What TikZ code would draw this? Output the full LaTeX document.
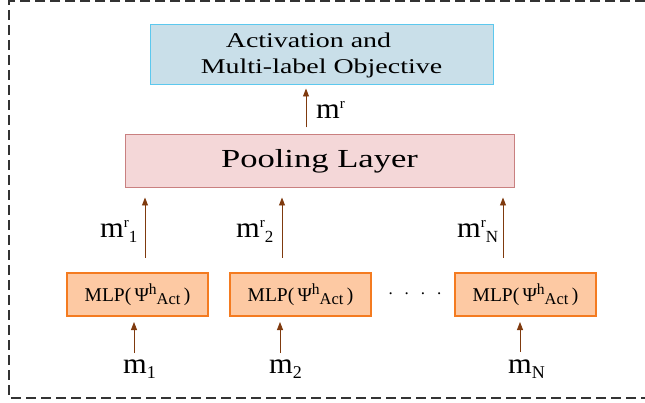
\documentclass[tikz,border=0pt]{standalone}
\usepackage{fontspec}
\setmainfont{Liberation Serif}
\newfontfamily\widefont{Liberation Serif}[FakeStretch=1.33]
\newfontfamily\mfont{Liberation Serif}[FakeStretch=1.05]
\usetikzlibrary{arrows.meta}
\definecolor{topfill}{HTML}{C9DFE9}
\definecolor{topdraw}{HTML}{5CC8EE}
\definecolor{poolfill}{HTML}{F4D7D8}
\definecolor{pooldraw}{HTML}{C98080}
\definecolor{mlpfill}{HTML}{FDC9A3}
\definecolor{mlpdraw}{HTML}{F47B20}
\definecolor{arrcol}{HTML}{7F3A0E}
\definecolor{framecol}{HTML}{333333}
\newcommand{\mlp}{{\fontsize{19.5}{19.5}\selectfont MLP(\,Ψ\raisebox{7pt}{\fontsize{15.5}{15.5}\selectfont h}\raisebox{-3pt}{\fontsize{16.5}{16.5}\selectfont Act}\,)}}
\newcommand{\mrlab}[1]{{\mfont\fontsize{29}{29}\selectfont m}\raisebox{10pt}{\fontsize{15}{15}\selectfont r}\raisebox{-5pt}{\fontsize{17}{17}\selectfont #1}}
\newcommand{\mlab}[1]{{\mfont\fontsize{29}{29}\selectfont m}\raisebox{-5pt}{\fontsize{18}{18}\selectfont #1}}
\tikzset{
  topbox/.style={draw=topdraw, fill=topfill, line width=1pt, inner sep=0pt, minimum width=343pt, minimum height=60pt, align=center, font=\widefont\fontsize{21}{26}\selectfont},
  poolbox/.style={draw=pooldraw, fill=poolfill, line width=1pt, inner sep=0pt, minimum width=389pt, minimum height=53pt, font=\widefont\fontsize{26}{26}\selectfont},
  mlpbox/.style={draw=mlpdraw, fill=mlpfill, line width=2pt, inner sep=0pt, minimum width=141pt, minimum height=43pt},
  arr/.style={draw=arrcol, line width=0.9pt, -{Triangle[width=6pt,length=8pt]}},
  lab/.style={anchor=base west, inner sep=0pt},
  frame/.style={draw=framecol, line width=2pt, dash pattern=on 10pt off 5pt},
}
\begin{document}
\begin{tikzpicture}[x=1pt,y=-1pt]
\useasboundingbox (0,0) rectangle (645,403);
\draw[frame] (660,1) -- (9,1) -- (9,398) -- (660,398);
\node[topbox] (top) at (321.5,55) {\raisebox{-2pt}{Activation and\hspace*{26pt}} \\ \raisebox{-2pt}{Multi-label Objective}};
\node[poolbox] (pool) at (319.5,161.5) {Pooling Layer};
\node[mlpbox] (mlp1) at (137.5,294.5) {\mlp};
\node[mlpbox] (mlp2) at (300.5,294.5) {\mlp};
\node[mlpbox] (mlp3) at (525.5,294.5) {\mlp};
\node[anchor=center, inner sep=0pt] (dots) at (415,294) {\fontsize{17}{17}\selectfont .\hspace{12pt}.\hspace{12pt}.\hspace{12pt}.};
% arrow to top
\coordinate (c0) at (306,0);
\draw[arr, shorten <=7pt, shorten >=3pt] (pool.north -| c0) -- (top.south -| c0);
\node[lab] (mr) at (316,119) {{\mfont\fontsize{29}{29}\selectfont m}\raisebox{10pt}{\fontsize{15}{15}\selectfont r}};
% arrows to pooling
\coordinate (p1) at (145,258);
\coordinate (p2) at (282,258);
\coordinate (p3) at (503,258);
\draw[arr, shorten >=9pt] (p1) -- (pool.south -| p1);
\draw[arr, shorten >=9pt] (p2) -- (pool.south -| p2);
\draw[arr, shorten >=9pt] (p3) -- (pool.south -| p3);
\node[lab] (mr1) at (100,238) {\mrlab{1}};
\node[lab] (mr2) at (236,238) {\mrlab{2}};
\node[lab] (mrN) at (457,238) {\mrlab{N}};
% arrows to mlp
\coordinate (q1) at (134,353);
\coordinate (q2) at (280,353);
\coordinate (q3) at (520,352);
\draw[arr, shorten >=5pt] (q1) -- (mlp1.south -| q1);
\draw[arr, shorten >=5pt] (q2) -- (mlp2.south -| q2);
\draw[arr, shorten >=5pt] (q3) -- (mlp3.south -| q3);
\node[lab] (m1) at (123,373) {\mlab{1}};
\node[lab] (m2) at (269,373) {\mlab{2}};
\node[lab] (mN) at (508,373) {\mlab{N}};
\end{tikzpicture}
\end{document}
